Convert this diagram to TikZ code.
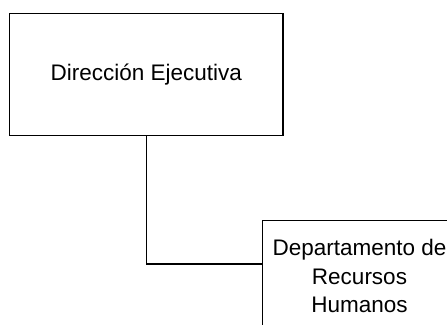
\documentclass[tikz,border=0pt]{standalone}
\usepackage{fontspec}
\setmainfont{Liberation Sans}
\begin{document}
\begin{tikzpicture}[x=1pt,y=1pt,
  orgbox/.style={draw=black, line width=1.3pt, fill=white, inner sep=0pt, align=center,
    font=\fontsize{22.5}{28.5}\selectfont},
  link/.style={draw=black, line width=1.3pt}]
\useasboundingbox (0,0) rectangle (447,324);
\clip (0,0) rectangle (447,324);
\fill[white] (0,0) rectangle (447,324);
\node[orgbox, minimum width=273.5pt, minimum height=122pt] (b1) at (146.25,249.5) {Dirección Ejecutiva};
\node[orgbox, minimum width=194.4pt, minimum height=110.6pt] (b2) at (359.5,48) {Departamento de\\Recursos\\Humanos};
\coordinate (j) at ([yshift=12pt]b2.west);
\draw[link] (b1.south) |- (j);
\end{tikzpicture}
\end{document}
